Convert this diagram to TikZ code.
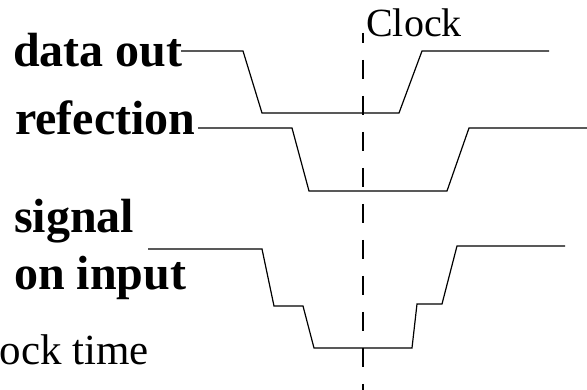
\documentclass[tikz,border=0pt]{standalone}
\usepackage{fontspec}
\setmainfont{Liberation Serif}
\begin{document}
\begin{tikzpicture}[x=1pt,y=-1pt,
  sig/.style={line width=1.2pt,line join=miter},
  clockline/.style={line width=2.2pt,dash pattern=on 19pt off 17pt,dash phase=9pt},
  biglabel/.style={anchor=base west,inner sep=0pt,font=\fontsize{48}{50}\selectfont\bfseries},
  smalllabel/.style={inner sep=0pt,font=\fontsize{40}{42}\selectfont},
  timelabel/.style={inner sep=0pt,font=\fontsize{43}{45}\selectfont}]
\useasboundingbox (0,0) rectangle (587,390);

% signal names
\node[biglabel] (dout) at (13,67) {data out};
\node[biglabel] (refl) at (15,135) {refection};
\node[biglabel] (sig1) at (14,233) {signal};
\node[biglabel] (sig2) at (14,290) {on input};

% clock labels
\node[smalllabel,anchor=base west] (clk) at (366,37) {Clock};
\node[timelabel,anchor=base east] (clkt) at (149,365) {Clock time};

% clock edge marker
\coordinate (ctop) at (363,33);
\coordinate (cbot) at (363,392);
\draw[clockline] (ctop) -- (cbot);

% waveform start points
\coordinate (dstart) at (181,51);
\coordinate (rstart) at (198,128);
\coordinate (sstart) at (148,249);

% data out
\draw[sig] (dstart) -- (243,51) -- (262,113) -- (399,113) -- (422,51) -- (549,51);
% reflection
\draw[sig] (rstart) -- (292,128) -- (309,191) -- (447,191) -- (469,128) -- (588,128);
% signal on input
\draw[sig] (sstart) -- (262,249) -- (274,306) -- (303,306) -- (314,348)
  -- (412,348) -- (417,304) -- (442,304) -- (457,246) -- (565,246);
\end{tikzpicture}
\end{document}
